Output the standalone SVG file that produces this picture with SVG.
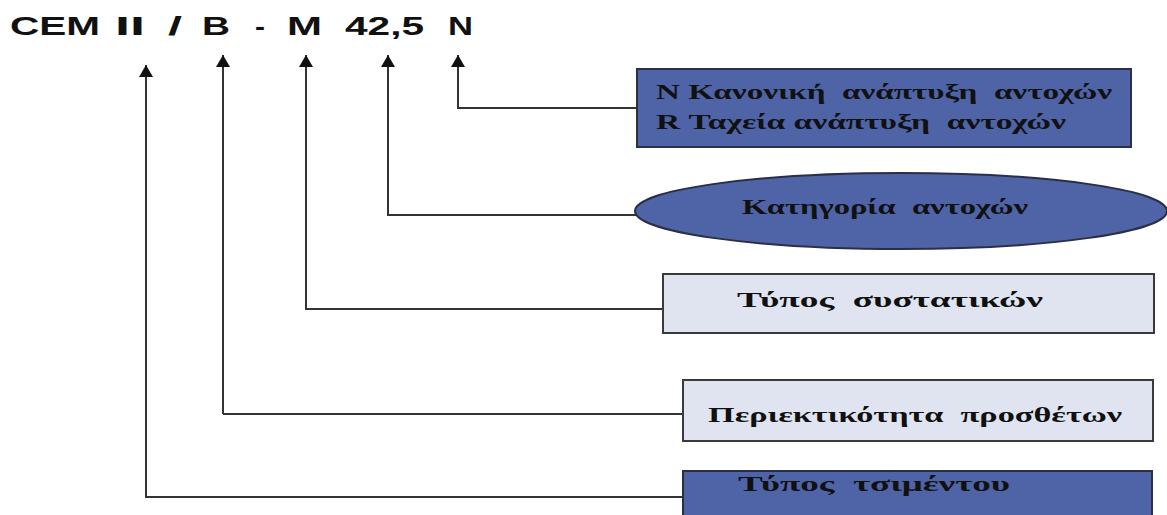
<svg xmlns="http://www.w3.org/2000/svg" width="1167" height="515" viewBox="0 0 1167 515">
<defs>
<marker id="ah" viewBox="0 0 12 14" refX="12" refY="7" markerWidth="12" markerHeight="14" markerUnits="userSpaceOnUse" orient="auto">
<path d="M0,0 L12,7 L0,14 Z" fill="#111"/>
</marker>
</defs>
<style>
.title{font-family:"Liberation Sans",Arial,sans-serif;font-weight:bold;font-size:26px;fill:#111}
.lbl{font-family:"Liberation Serif","DejaVu Serif",serif;font-weight:bold;font-size:21px;fill:#111;white-space:pre}
.dark{fill:#4f64a6;stroke:#2a2f45;stroke-width:2}
.light{fill:#dfe4f0;stroke:#3a3a3a;stroke-width:2}
.con{fill:none;stroke:#333;stroke-width:2}
</style>
<rect width="1167" height="515" fill="#fff"/>
<g id="title">
<text class="title" x="10" y="35" textLength="90" lengthAdjust="spacingAndGlyphs">CEM</text>
<text class="title" x="115" y="35" textLength="30" lengthAdjust="spacingAndGlyphs">II</text>
<text class="title" x="168" y="35" textLength="14" lengthAdjust="spacingAndGlyphs">/</text>
<text class="title" x="202" y="35" textLength="28" lengthAdjust="spacingAndGlyphs">B</text>
<text class="title" x="255" y="35" textLength="10" lengthAdjust="spacingAndGlyphs">-</text>
<text class="title" x="287" y="35" textLength="35" lengthAdjust="spacingAndGlyphs">M</text>
<text class="title" x="345" y="35" textLength="79" lengthAdjust="spacingAndGlyphs">42,5</text>
<text class="title" x="448" y="35" textLength="25" lengthAdjust="spacingAndGlyphs">N</text>
</g>
<g id="connectors">
<path class="con" d="M686,497 H146 V65" marker-end="url(#ah)"/>
<path class="con" d="M683,414 H223"/>
<path class="con" d="M223,414 V55" stroke="#4a5fa8" marker-end="url(#ah)"/>
<path class="con" d="M663,309 H306 V55" marker-end="url(#ah)"/>
<path class="con" d="M636,215 H388 V55" marker-end="url(#ah)"/>
<path class="con" d="M637,108 H458 V55" marker-end="url(#ah)"/>
</g>
<g id="node-strength-dev">
<rect class="dark" x="637" y="69" width="494" height="78"/>
<text class="lbl" x="656" y="99" textLength="456" lengthAdjust="spacingAndGlyphs" xml:space="preserve">N Κανονική  ανάπτυξη  αντοχών</text>
<text class="lbl" x="656" y="129" textLength="410" lengthAdjust="spacingAndGlyphs" xml:space="preserve">R Ταχεία ανάπτυξη  αντοχών</text>
</g>
<g id="node-strength-class">
<ellipse class="dark" cx="901" cy="211" rx="266" ry="38"/>
<text class="lbl" x="742" y="214" textLength="286" lengthAdjust="spacingAndGlyphs" xml:space="preserve">Κατηγορία  αντοχών</text>
</g>
<g id="node-constituents">
<rect class="light" x="663" y="274" width="491" height="59"/>
<text class="lbl" x="737" y="307" textLength="306" lengthAdjust="spacingAndGlyphs" xml:space="preserve">Τύπος  συστατικών</text>
</g>
<g id="node-additives">
<rect class="light" x="683" y="380" width="470" height="61"/>
<text class="lbl" x="708" y="422" textLength="414" lengthAdjust="spacingAndGlyphs" xml:space="preserve">Περιεκτικότητα  προσθέτων</text>
</g>
<g id="node-cement-type">
<rect class="dark" x="683" y="471" width="469" height="60"/>
<text class="lbl" x="738" y="491" textLength="272" lengthAdjust="spacingAndGlyphs" xml:space="preserve">Τύπος  τσιμέντου</text>
</g>
</svg>
